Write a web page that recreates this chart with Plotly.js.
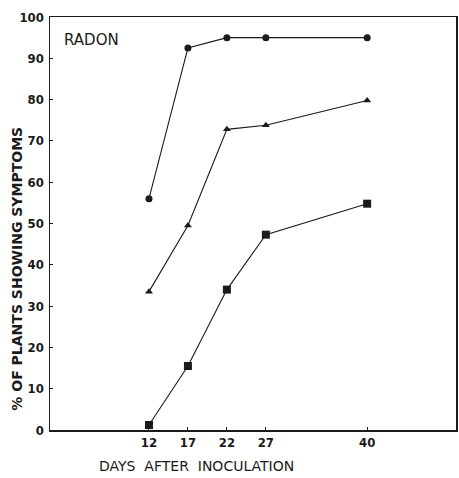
<!DOCTYPE html>
<html><head><meta charset="utf-8">
<script src="https://cdn.plot.ly/plotly-3.0.1.min.js"></script>
<style>body{margin:0;background:#fff}</style>
</head><body><div id="chart" style="width:459px;height:478px"></div>
<script>
const days = [12, 17, 22, 27, 40];
const circleSeries = [56, 92.5, 95, 95, 95];
const triangleSeries = [33.5, 49.5, 72.8, 73.8, 79.8];
const squareSeries = [1.2, 15.5, 34, 47.3, 54.8];
const yTicks = [0,10,20,30,40,50,60,70,80,90,100];
const xTicks = [12,17,22,27,40];

const ink = '#1a1a1a';
function tr(y, sym, size){
  return {x: days, y: y, type:'scatter', mode:'lines+markers',
    line:{color:ink, width:1.1},
    marker:{symbol:sym, size:size, color:ink}, showlegend:false, cliponaxis:false};
}
const data = [tr(circleSeries,'circle',7), tr(triangleSeries,'triangle-up',7), tr(squareSeries,'square',8)];
const tickFont = {family:'DejaVu Sans Condensed', size:13, color:ink, weight:'bold'};
const layout = {
  width:459, height:478, margin:{l:50, r:3, t:17, b:48},
  paper_bgcolor:'#fff', plot_bgcolor:'#fff',
  font:{family:'DejaVu Sans', color:ink},
  xaxis:{range:[-0.7, 51.4], tickvals:xTicks, ticktext:xTicks.map(String),
    showgrid:false, zeroline:false, showline:true, linecolor:ink, linewidth:1.5, mirror:true,
    ticks:'inside', ticklen:3, tickcolor:ink, tickfont:tickFont},
  yaxis:{range:[0, 100], tickvals:yTicks, ticktext:yTicks.map(String),
    showgrid:false, zeroline:false, showline:true, linecolor:ink, linewidth:1.5, mirror:true,
    ticks:'inside', ticklen:3, tickcolor:ink, tickfont:tickFont, ticklabelstandoff:2},
  annotations:[
    {text:'RADON', xref:'paper', yref:'paper', x:0.03, y:0.945, xanchor:'left', yanchor:'middle', showarrow:false,
     font:{family:'DejaVu Sans', size:15, color:ink}},
    {text:'DAYS  AFTER  INOCULATION', xref:'paper', yref:'paper', x:(196-50)/406, y:-0.087, xanchor:'center', yanchor:'middle', showarrow:false,
     font:{family:'DejaVu Sans', size:14, color:ink}},
    {text:'% OF PLANTS SHOWING SYMPTOMS', xref:'paper', yref:'paper', x:-0.082, y:0.39, textangle:-90, xanchor:'center', yanchor:'middle', showarrow:false,
     font:{family:'DejaVu Sans', size:14, color:ink, weight:'bold'}}
  ]
};
Plotly.newPlot('chart', data, layout, {displayModeBar:false, staticPlot:true});
</script></body></html>
